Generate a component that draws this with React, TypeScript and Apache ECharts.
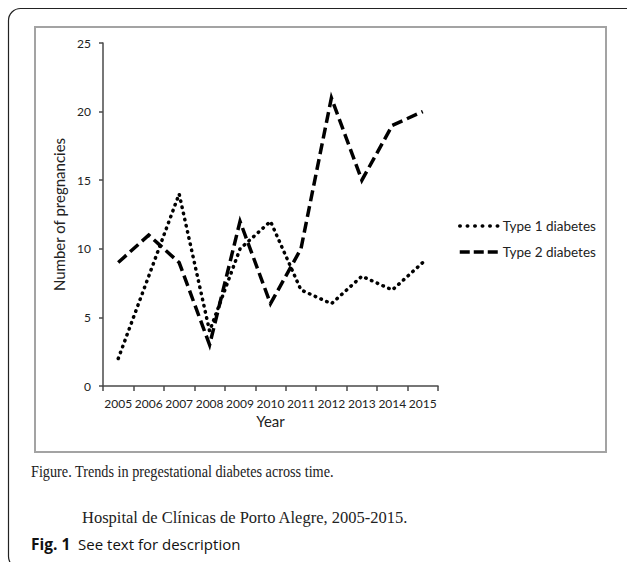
import React, { useEffect, useRef } from "react";
import * as echarts from "echarts";

const years = ["2005", "2006", "2007", "2008", "2009", "2010", "2011", "2012", "2013", "2014", "2015"];
const type1 = [2, 8, 14, 4, 10, 12, 7, 6, 8, 7, 9];
const type2 = [9, 11, 9, 3, 12, 6, 10, 21, 15, 19, 20];
const seriesNames = ["Type 1 diabetes", "Type 2 diabetes"];
const yTicks = { min: 0, max: 25, interval: 5 };
const captionLine1 = "Figure. Trends in pregestational diabetes across time.";
const captionLine2 = "Hospital de Clínicas de Porto Alegre, 2005-2015.";
const figLabel = "Fig. 1";
const figText = "See text for description";

const chartFont = "Lato, 'Open Sans', sans-serif";

export default function App() {
  const ref = useRef<HTMLDivElement>(null);
  useEffect(() => {
    if (!ref.current) return;
    const chart = echarts.init(ref.current, undefined, { renderer: "svg" });
    chart.setOption({
      animation: false,
      backgroundColor: "#ffffff",
      grid: { left: 103, top: 43, right: 189, bottom: 176, containLabel: false },
      legend: {
        orient: "vertical",
        left: 458,
        top: 219,
        padding: 0,
        itemWidth: 38,
        itemHeight: 14,
        itemGap: 12,
        data: [
          {
            name: seriesNames[0],
            lineStyle: { color: "#000", width: 3.5, type: [0.5, 7], cap: "round" },
          },
          {
            name: seriesNames[1],
            lineStyle: { color: "#000", width: 3.5, type: [10, 4], cap: "butt" },
          },
        ],
        itemStyle: { color: "transparent", borderWidth: 0, opacity: 0 },
        textStyle: { fontFamily: chartFont, fontSize: 13.5, color: "#222" },
      },
      xAxis: {
        type: "category",
        data: years,
        boundaryGap: true,
        name: "Year",
        nameLocation: "middle",
        nameGap: 26,
        nameTextStyle: { fontFamily: chartFont, fontSize: 15, color: "#222" },
        axisLine: { lineStyle: { color: "#4a4a4a", width: 1.5 } },
        axisTick: { show: true, length: 5, lineStyle: { color: "#4a4a4a", width: 1.5 } },
        axisLabel: { fontFamily: chartFont, fontSize: 12, color: "#222", margin: 11, interval: 0 },
        splitLine: { show: false },
      },
      yAxis: {
        type: "value",
        min: yTicks.min,
        max: yTicks.max,
        interval: yTicks.interval,
        name: "Number of pregnancies",
        nameLocation: "middle",
        nameGap: 28,
        nameRotate: 90,
        nameTextStyle: { fontFamily: chartFont, fontSize: 15, color: "#222" },
        axisLine: { show: true, lineStyle: { color: "#4a4a4a", width: 1.5 } },
        axisTick: { show: true, length: 4, lineStyle: { color: "#4a4a4a", width: 1.5 } },
        axisLabel: { fontFamily: chartFont, fontSize: 12, color: "#222", margin: 12 },
        splitLine: { show: false },
      },
      series: [
        {
          name: seriesNames[0],
          type: "line",
          data: type1,
          symbol: "none",
          lineStyle: { color: "#000", width: 3.5, type: [0.5, 5.8], cap: "round" },
          itemStyle: { color: "#000" },
        },
        {
          name: seriesNames[1],
          type: "line",
          data: type2,
          symbol: "none",
          lineStyle: { color: "#000", width: 3.5, type: [11, 5], cap: "butt", join: "miter" },
          itemStyle: { color: "#000" },
        },
      ],
      graphic: [
        {
          type: "rect",
          silent: true,
          shape: { x: 8.5, y: 8.5, width: 640, height: 560, r: 12 },
          style: { fill: "none", stroke: "#222", lineWidth: 1.2 },
          z: -10,
        },
        {
          type: "rect",
          silent: true,
          shape: { x: 35, y: 27, width: 571, height: 425 },
          style: { fill: "none", stroke: "#a3a3a3", lineWidth: 2 },
          z: -5,
        },
        {
          type: "text",
          x: 31,
          y: 472,
          scaleX: 0.89,
          style: {
            text: captionLine1,
            fontFamily: "'Liberation Serif', serif",
            fontSize: 16,
            fill: "#222",
            align: "left",
            verticalAlign: "middle",
          },
        },
        {
          type: "text",
          x: 82,
          y: 517,
          style: {
            text: captionLine2,
            fontFamily: "'Liberation Serif', serif",
            fontSize: 16.5,
            fill: "#222",
            align: "left",
            verticalAlign: "middle",
          },
        },
        {
          type: "text",
          left: 31,
          top: 536,
          style: {
            text: "{b|" + figLabel + "}  " + figText,
            fontFamily: "'Open Sans', sans-serif",
            fontSize: 15,
            fill: "#111",
            rich: {
              b: { fontFamily: "'Open Sans', sans-serif", fontWeight: "bold", fontSize: 15.5, fill: "#111" },
            },
          },
        },
      ],
    });
    return () => chart.dispose();
  }, []);
  return (
    <div
      ref={ref}
      style={{ position: "fixed", left: 0, top: 0, width: 627, height: 562 }}
    />
  );
}
